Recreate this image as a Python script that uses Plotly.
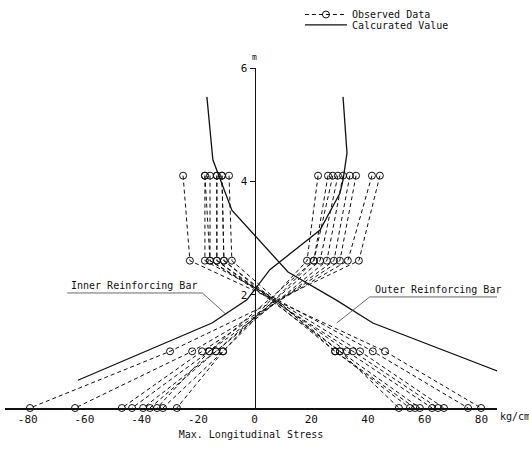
import plotly.graph_objects as go

# Gauge elevations (m) where stresses were measured
ELEV = [4.1, 2.6, 1.0, 0.0]

# Observed max. longitudinal stress (kg/cm2) at each elevation
INNER_OBS = [
    [44.2, 36.8, -29.8, -79.2],
    [41.4, 32.9, -22.0, -63.3],
    [35.8, 30.1, -18.5, -46.8],
    [33.6, 28.0, -16.0, -43.2],
    [31.2, 25.5, -13.6, -39.3],
    [29.4, 23.1, -13.6, -36.9],
    [27.6, 20.9, -11.1, -32.3],
    [25.9, 20.9, -16.0, -34.4],
    [22.4, 18.5, -11.1, -27.4],
]
OUTER_OBS = [
    [-25.2, -22.8, 46.0, 79.9],
    [-17.5, -17.5, 41.7, 75.3],
    [-17.5, -15.7, 37.2, 66.8],
    [-15.7, -15.7, 34.7, 64.7],
    [-13.3, -13.3, 32.6, 62.6],
    [-11.5, -10.8, 30.1, 58.3],
    [-11.5, -10.8, 28.4, 56.6],
    [-9.0, -8.0, 28.4, 54.8],
    [-13.3, -13.3, 30.1, 50.9],
]

# Calculated stress distributions
OUTER_CALC_X = [-16.8, -14.7, -8.0, 0.9, 11.8, 29.0, 41.7, 89.4]
OUTER_CALC_Y = [5.49, 4.38, 3.49, 3.0, 2.4, 1.9, 1.5, 0.58]
INNER_CALC_X = [31.2, 32.6, 31.2, 30.1, 23.1, 5.4, -2.7, -15.0, -62.3]
INNER_CALC_Y = [5.49, 4.5, 4.02, 3.79, 3.14, 2.44, 1.91, 1.5, 0.49]

X_TICKS = [-80, -60, -40, -20, 0, 20, 40, 60, 80]
Y_TICKS = [2, 4, 6]

X_RANGE = [-88, 85.5]
Y_RANGE = [0, 6]

FONT = "DejaVu Sans Mono"
INK = "#111111"

fig = go.Figure()

first = True
for series in INNER_OBS + OUTER_OBS:
    fig.add_trace(go.Scatter(
        x=series, y=ELEV, mode="lines+markers",
        line=dict(color=INK, width=1, dash="4px,3px"),
        marker=dict(symbol="circle-open", size=7, color=INK, line=dict(width=1)),
        cliponaxis=False,
        name="Observed Data", legend="legend", showlegend=first,
    ))
    first = False

fig.add_trace(go.Scatter(
    x=OUTER_CALC_X, y=OUTER_CALC_Y, mode="lines",
    line=dict(color=INK, width=1.3),
    name="Calcurated Value", legend="legend2", showlegend=True,
    cliponaxis=False,
))
fig.add_trace(go.Scatter(
    x=INNER_CALC_X, y=INNER_CALC_Y, mode="lines",
    line=dict(color=INK, width=1.3),
    name="Calcurated Value", showlegend=False,
    cliponaxis=False,
))

# Label leaders: underline under the text, then a thin line to the curve
fig.add_shape(type="path", xref="x", yref="y",
              path="M -66.1,2.03 L -18.4,2.03 L -10,1.65",
              line=dict(color="#444444", width=0.8))
fig.add_shape(type="path", xref="x", yref="y",
              path="M 87.6,1.96 L 40.6,1.96 L 29,1.5",
              line=dict(color="#444444", width=0.8))

fig.add_annotation(x=-42.4, y=2.03, yshift=7, xref="x", yref="y",
                   text="Inner Reinforcing Bar", showarrow=False,
                   font=dict(family=FONT, size=10, color=INK))
fig.add_annotation(x=64.7, y=1.96, yshift=7, xref="x", yref="y",
                   text="Outer Reinforcing Bar", showarrow=False,
                   font=dict(family=FONT, size=10, color=INK))

# Units
fig.add_annotation(x=0, y=6, xref="x", yref="y", yshift=11,
                   text="m", showarrow=False,
                   font=dict(family=FONT, size=8, color=INK))
fig.add_annotation(x=1.0, y=0, xref="paper", yref="y", xanchor="left",
                   xshift=1, yshift=-8,
                   text="kg/cm", showarrow=False,
                   font=dict(family=FONT, size=10, color=INK))

y_pos = (0 - X_RANGE[0]) / (X_RANGE[1] - X_RANGE[0])

legend_style = dict(xref="container", yref="container",
                    xanchor="left", yanchor="top", bgcolor="rgba(0,0,0,0)",
                    font=dict(family=FONT, size=10, color=INK),
                    itemwidth=42, borderwidth=0)

fig.update_layout(
    width=529, height=451,
    margin=dict(l=5, r=32, t=68, b=43, pad=0, autoexpand=False),
    paper_bgcolor="white", plot_bgcolor="white",
    font=dict(family=FONT, size=10, color=INK),
    showlegend=True,
    legend=dict(x=0.567, y=1.0, **legend_style),
    legend2=dict(x=0.567, y=0.977, **legend_style),
    xaxis=dict(range=X_RANGE, showline=True, linecolor=INK, linewidth=1.5,
               ticks="", tickvals=X_TICKS, ticktext=[str(v) for v in X_TICKS],
               showgrid=False, zeroline=False,
               tickfont=dict(family=FONT, size=11, color=INK),
               title=dict(text="Max. Longitudinal Stress", standoff=6,
                          font=dict(family=FONT, size=10, color=INK))),
    yaxis=dict(range=Y_RANGE, anchor="free", position=y_pos,
               showline=True, linecolor=INK, linewidth=1,
               ticks="outside", ticklen=5, tickcolor=INK,
               tickvals=Y_TICKS, showgrid=False, zeroline=False,
               tickfont=dict(family=FONT, size=11, color=INK)),
)

fig.write_html("out.html")
